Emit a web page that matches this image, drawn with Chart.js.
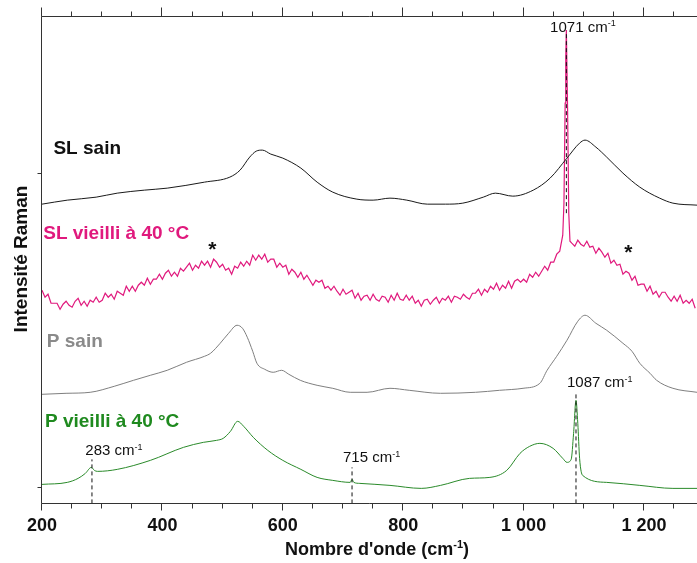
<!DOCTYPE html>
<html>
<head>
<meta charset="utf-8">
<script src="https://cdn.jsdelivr.net/npm/chart.js@4.4.1/dist/chart.umd.min.js"></script>
<style>
  html, body { margin: 0; padding: 0; background: #fff; }
  canvas { display: block; }
</style>
</head>
<body>
<canvas id="raman" width="697" height="563"></canvas>
<script>
// wavenumber axis (cm-1) and intensity in arbitrary units (offset stacked)
const xMin = 200;
const xMax = 1288;
const xLabelStep = 200;
const xMinorStep = 50;
const yMin = 0;
const yMax = 487;
const yMarks = [16, 330];

// SL sain
const slSainX = [200, 242, 290, 325, 370, 408, 470, 512, 529, 545, 556, 566, 580, 600, 630, 657, 683, 723, 750, 778, 806, 840, 870, 899, 933, 953, 982, 1016, 1044, 1072, 1093, 1102, 1120, 1138, 1165, 1193, 1226, 1248, 1288];
const slSainY = [299, 303, 306, 310, 313, 315, 321, 326, 333, 346, 352, 353, 349, 345, 335, 321, 311, 304, 303, 305, 303, 299, 299, 300, 306, 310, 307, 313, 325, 345, 360, 363, 356, 346, 330, 316, 305, 300, 298];

// SL vieilli a 40 C : read every 5 cm-1 from 200, plus the sharp 1071 band
const slVieilliStart = 200;
const slVieilliStep = 5;
const slVieilliY = [
  213, 206, 209, 200, 200, 200, 194, 199, 202, 198, 196, 202, 205, 198, 202, 197, 203, 201, 206, 201,
  203, 210, 206, 209, 204, 212, 210, 208, 217, 212, 217, 212, 218, 221, 218, 225, 219, 224, 224, 229,
  224, 230, 233, 227, 231, 227, 235, 232, 236, 240, 233, 238, 235, 242, 238, 242, 236, 244, 241, 236,
  239, 233, 235, 229, 237, 235, 241, 237, 242, 238, 248, 243, 248, 244, 249, 241, 244, 244, 236, 240,
  236, 238, 229, 234, 231, 226, 231, 224, 228, 223, 218, 223, 221, 223, 215, 217, 213, 217, 212, 208,
  214, 209, 211, 213, 205, 210, 203, 207, 208, 203, 209, 204, 202, 207, 206, 201, 208, 203, 210, 204,
  203, 208, 203, 207, 200, 203, 197, 203, 204, 199, 203, 206, 200, 205, 203, 207, 201, 207, 206, 204,
  209, 206, 204, 210, 210, 214, 208, 214, 211, 217, 214, 220, 213, 218, 215, 222, 215, 222, 224, 221,
  224, 221, 229, 226, 231, 227, 232, 237, 233, 241, 241, 249, 252, 268, 445, 290,
  260, 257, 263, 259,
  257, 262, 256, 257, 250, 255, 251, 246, 250, 240, 243, 238, 239, 229, 232, 230, 223, 227, 218, 219,
  219, 212, 217, 209, 212, 206, 211, 211, 206, 202, 207, 202, 208, 200, 203, 200, 204, 195
];
const slVieilliPeakX = [1067, 1069, 1071, 1073, 1077];
const slVieilliPeakY = [300, 400, 473, 395, 262];

// P sain
const pSainX = [200, 240, 280, 320, 352, 380, 408, 440, 470, 480, 496, 510, 524, 533, 541, 550, 557, 570, 584, 598, 610, 629, 657, 683, 712, 740, 778, 810, 862, 920, 960, 999, 1027, 1039, 1055, 1072, 1090, 1102, 1120, 1138, 1165, 1180, 1193, 1210, 1221, 1248, 1288];
const pSainY = [109, 110, 111, 117, 123, 128, 133, 141, 147, 150, 160, 170, 178, 175, 166, 152, 140, 134, 131, 133, 129, 123, 118, 115, 111, 111, 115, 113, 110, 111, 113, 115, 120, 133, 147, 163, 182, 188, 180, 173, 160, 152, 140, 130, 123, 115, 111];

// P vieilli a 40 C
const pVieilliX = [200, 242, 260, 272, 282, 287, 292, 325, 380, 435, 468, 490, 501, 513, 525, 535, 551, 575, 600, 630, 657, 683, 712, 715, 718, 728, 778, 830, 862, 910, 944, 972, 994, 1010, 1027, 1049, 1065, 1072, 1079, 1083, 1087, 1090, 1093, 1098, 1138, 1193, 1248, 1288];
const pVieilliY = [19, 21, 25, 30, 36, 33, 32, 34, 43, 56, 61, 63, 65, 72, 82, 77, 66, 53, 43, 34, 26, 23, 21, 24, 21, 20, 18, 15, 18, 25, 26, 33, 50, 57, 60, 55, 45, 41, 44, 70, 103, 80, 45, 28, 21, 18, 15, 15];

const seriesNames = ['SL sain', 'SL vieilli à 40 °C', 'P sain', 'P vieilli à 40 °C'];
const lineColors = ['#1a1a1a', '#e0197d', '#7f7f7f', '#2a8a2a'];
const nameColors = ['#111111', '#e0197d', '#8a8a8a', '#1f8a1f'];
const nameX = [219, 202, 208, 205];
const nameY = [349, 264, 156, 76];

// marked bands
const bandX = [283, 715, 1071, 1087];
const bandLow = [0, 0, 290, 0];
const bandHigh = [44, 36, 470, 110];
const bandTextX = [272, 700, 1044, 1072];
const bandTextY = [48, 41, 471, 116];

const starX = [483, 1174];
const starY = [247, 244];

function toPoints(xs, ys) {
  return xs.map((x, i) => ({ x: x, y: ys[i] }));
}

function vieilliPoints() {
  const pts = slVieilliY.map((v, i) => ({ x: slVieilliStart + i * slVieilliStep, y: v }));
  slVieilliPeakX.forEach((x, i) => pts.push({ x: x, y: slVieilliPeakY[i] }));
  return pts.sort((a, b) => a.x - b.x);
}

const FONT = "'Liberation Sans', Arial, Helvetica, sans-serif";

function supText(ctx, x, y, base, sup, tail, size, weight, color, align) {
  const big = weight + ' ' + size + 'px ' + FONT;
  const small = weight + ' ' + Math.round(size * 0.62) + 'px ' + FONT;
  ctx.font = big;
  const w1 = ctx.measureText(base).width;
  const w3 = tail ? ctx.measureText(tail).width : 0;
  ctx.font = small;
  const w2 = ctx.measureText(sup).width;
  let left = x;
  if (align === 'center') left = x - (w1 + w2 + w3) / 2;
  ctx.fillStyle = color;
  ctx.textAlign = 'left';
  ctx.textBaseline = 'alphabetic';
  ctx.font = big;
  ctx.fillText(base, left, y);
  ctx.font = small;
  ctx.fillText(sup, left + w1, y - size * 0.38);
  if (tail) {
    ctx.font = big;
    ctx.fillText(tail, left + w1 + w2, y);
  }
}

const decor = {
  id: 'decor',
  afterDatasetsDraw(chart) {
    const { ctx, chartArea: a, scales: { x, y } } = chart;
    ctx.save();
    ctx.strokeStyle = '#333';
    ctx.lineWidth = 1;
    const L = Math.round(a.left) - 0.5;
    const T = Math.round(a.top) + 0.5;
    const B = Math.round(a.bottom) + 0.5;
    const R = a.right;
    ctx.beginPath();
    ctx.moveTo(L, T); ctx.lineTo(R, T);
    ctx.moveTo(L, T); ctx.lineTo(L, B); ctx.lineTo(R, B);
    for (let v = xMin; v <= xMax; v += xMinorStep) {
      const px = Math.round(x.getPixelForValue(v)) - 0.5;
      const major = v % xLabelStep === 0;
      ctx.moveTo(px, B); ctx.lineTo(px, B + (major ? 7 : 5));
      ctx.moveTo(px, T); ctx.lineTo(px, T - (major ? 9 : 5));
    }
    yMarks.forEach(v => {
      const py = Math.round(y.getPixelForValue(v)) + 0.5;
      ctx.moveTo(L, py); ctx.lineTo(L - 4, py);
    });
    ctx.stroke();

    // series names
    ctx.font = 'bold 19px ' + FONT;
    ctx.textAlign = 'left';
    ctx.textBaseline = 'alphabetic';
    seriesNames.forEach((n, i) => {
      ctx.fillStyle = nameColors[i];
      ctx.fillText(n, x.getPixelForValue(nameX[i]), y.getPixelForValue(nameY[i]));
    });

    // band labels
    bandX.forEach((b, i) => {
      supText(ctx, x.getPixelForValue(bandTextX[i]), y.getPixelForValue(bandTextY[i]),
        b + ' cm', '-1', '', 15, 'normal', '#111', 'left');
    });

    // asterisks
    ctx.font = 'bold 21px ' + FONT;
    ctx.fillStyle = '#111';
    ctx.textAlign = 'center';
    starX.forEach((s, i) => {
      ctx.fillText('*', x.getPixelForValue(s), y.getPixelForValue(starY[i]));
    });

    // axis titles
    supText(ctx, 377, 555, "Nombre d'onde (cm", '-1', ')', 18, 'bold', '#111', 'center');
    ctx.translate(22, 259);
    ctx.rotate(-Math.PI / 2);
    ctx.font = 'bold 19px ' + FONT;
    ctx.fillStyle = '#111';
    ctx.textAlign = 'center';
    ctx.textBaseline = 'middle';
    ctx.fillText('Intensité Raman', 0, 0);
    ctx.restore();
  }
};

const bandSets = bandX.map((b, i) => ({
  data: [{ x: b, y: bandLow[i] }, { x: b, y: bandHigh[i] }],
  borderColor: '#111',
  borderWidth: 1,
  borderDash: [4, 3],
  pointRadius: 0,
  tension: 0
}));

const spectra = [
  { data: toPoints(slSainX, slSainY), color: lineColors[0], smooth: true, width: 1 },
  { data: vieilliPoints(), color: lineColors[1], smooth: false, width: 1.2 },
  { data: toPoints(pSainX, pSainY), color: lineColors[2], smooth: true, width: 1 },
  { data: toPoints(pVieilliX, pVieilliY), color: lineColors[3], smooth: true, width: 1 }
].map(s => ({
  data: s.data,
  borderColor: s.color,
  borderWidth: s.width,
  pointRadius: 0,
  tension: 0,
  cubicInterpolationMode: s.smooth ? 'monotone' : 'default'
}));

new Chart(document.getElementById('raman'), {
  type: 'line',
  data: { datasets: bandSets.concat(spectra) },
  options: {
    responsive: false,
    animation: false,
    devicePixelRatio: 1,
    layout: { padding: { left: 42, right: 0, top: 16, bottom: 14 } },
    plugins: { legend: { display: false }, tooltip: { enabled: false } },
    scales: {
      x: {
        type: 'linear',
        min: xMin,
        max: xMax,
        grid: { display: false, drawTicks: false },
        border: { display: false },
        ticks: {
          stepSize: xLabelStep,
          includeBounds: false,
          padding: 12,
          color: '#111',
          font: { family: FONT, size: 18, weight: 'bold' },
          maxRotation: 0,
          callback: v => v >= 1000 ? Math.floor(v / 1000) + ' ' + String(v % 1000).padStart(3, '0') : String(v)
        }
      },
      y: { display: false, min: yMin, max: yMax }
    }
  },
  plugins: [decor]
});
</script>
</body>
</html>
